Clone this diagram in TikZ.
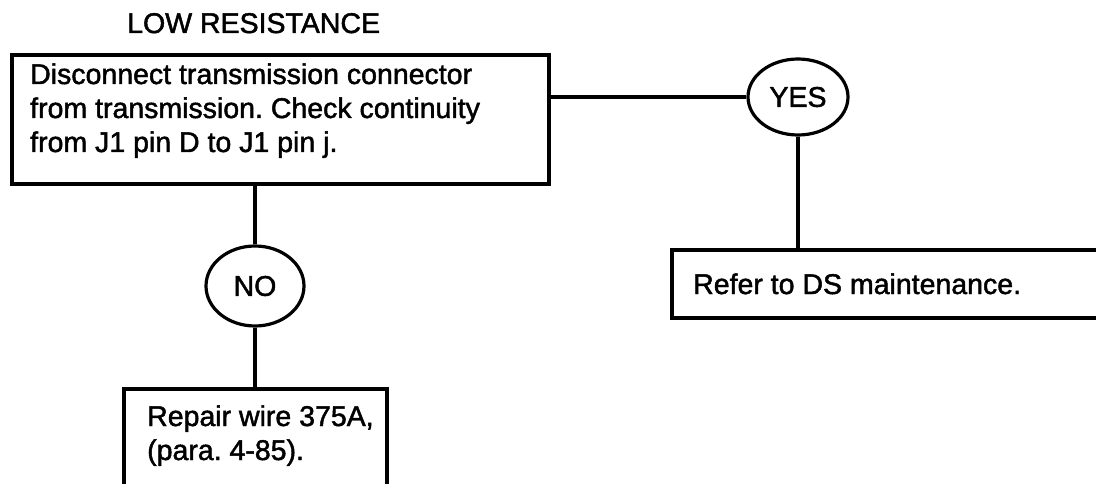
\documentclass[tikz,border=0pt]{standalone}
\usepackage{fontspec}
\setmainfont{Liberation Sans}[BoldFont=Liberation Sans,BoldFeatures={FakeBold=1.6}]
\frenchspacing
\usetikzlibrary{shapes.geometric}
\begin{document}
\begin{tikzpicture}[x=1pt,y=-1pt,
  every node/.style={font=\bfseries\fontsize{28.5}{34}\selectfont},
  frame/.style={draw,line width=3.2pt,rectangle,inner sep=0pt},
  oval/.style={draw,line width=3.2pt,ellipse,inner sep=0pt},
  txt/.style={anchor=base west,inner sep=0pt,align=left},
  conn/.style={line width=3.2pt}]
\useasboundingbox (0,0) rectangle (1096,484);
\fill[white] (0,0) rectangle (1096,484);
% title
\node[txt] (title) at (127,33) {LOW RESISTANCE};
% boxes
\node[frame,minimum width=537pt,minimum height=129pt] (main) at (280.5,119.5) {};
\node[txt] (maintxt) at (30,152) {Disconnect transmission connector\\from transmission. Check continuity\\from J1 pin D to J1 pin j.};
\node[frame,minimum width=440pt,minimum height=68pt] (refer) at (892,284) {};
\node[txt] (refertxt) at (693,294) {Refer to DS maintenance.};
\node[frame,minimum width=263pt,minimum height=120pt] (repair) at (255.5,449) {};
\node[txt] (repairtxt) at (147,460) {Repair wire 375A,\\(para. 4-85).};
% decisions
\node[oval,minimum width=100pt,minimum height=76pt] (yes) at (798,97) {YES};
\node[oval,minimum width=98pt,minimum height=80pt] (no) at (255,286) {NO};
% connectors
\draw[conn] (yes.west) -- (yes.west -| main.east);
\draw[conn] (yes.south) -- (yes.south |- refer.north);
\draw[conn] (no.north) -- (no.north |- main.south);
\draw[conn] (no.south) -- (no.south |- repair.north);
\end{tikzpicture}
\end{document}
